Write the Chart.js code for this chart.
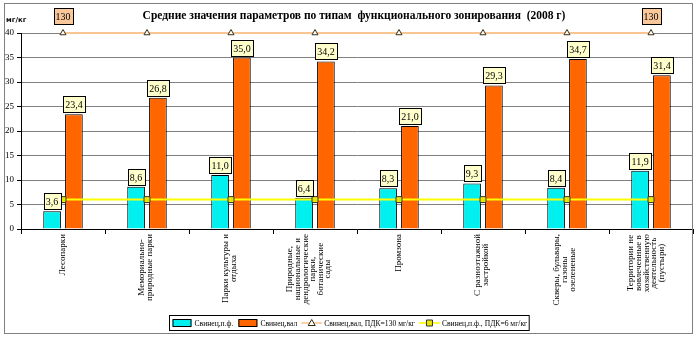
<!DOCTYPE html>
<html lang="ru">
<head>
<meta charset="UTF-8">
<title>Свинец по типам зонирования</title>
<script src="https://cdn.jsdelivr.net/npm/chart.js"></script>
<style>
    body { margin: 0; background: #fff; }
    #wrap { width: 699px; height: 340px; }
</style>
</head>
<body>
<div id="wrap"><canvas id="chart" width="699" height="340"></canvas></div>
<script>
// данные с диаграммы
const categories = [
    ['Лесопарки'],
    ['Мемориально-', 'природные парки'],
    ['Парки культуры и', 'отдыха'],
    ['Природные,', 'национальные и', 'дендрологические', 'парки,', 'ботанические', 'сады'],
    ['Промзона'],
    ['С разноэтажной', 'застройкой'],
    ['Скверы, бульвары,', 'газоны', 'озелененые'],
    ['Территории не', 'вовлеченные в', 'хозяйственную', 'деятельность', '(пустыри)']
];
const leadPF = [3.6, 8.6, 11.0, 6.4, 8.3, 9.3, 8.4, 11.9];
const leadVal = [23.4, 26.8, 35.0, 34.2, 21.0, 29.3, 34.7, 31.4];
const pdkVal = [130, 130, 130, 130, 130, 130, 130, 130];
const pdkPF = [6, 6, 6, 6, 6, 6, 6, 6];
const yMax = 40;
const yStep = 5;

const seriesNames = ['Свинец,п.ф.', 'Свинец,вал', 'Свинец,вал, ПДК=130 мг/кг', 'Свинец,п.ф., ПДК=6 мг/кг'];
const titleText = 'Средние значения параметров по типам  функционального зонирования  (2008 г)';
const unitText = 'мг/кг';

const SERIF = '"Liberation Serif", "Times New Roman", serif';
const fmt = v => v.toFixed(1).replace('.', ',');

function labelBox(ctx, text, cx, bottom, fill) {
    ctx.font = '10px ' + SERIF;
    const w = Math.ceil(ctx.measureText(text).width) + 4;
    const h = 16;
    const x = Math.round(cx - w / 2) + 0.5;
    const y = Math.round(bottom - h) + 0.5;
    ctx.fillStyle = fill;
    ctx.fillRect(x, y, w, h);
    ctx.strokeStyle = '#000';
    ctx.lineWidth = 1;
    ctx.strokeRect(x, y, w, h);
    ctx.fillStyle = '#000';
    ctx.textAlign = 'center';
    ctx.textBaseline = 'middle';
    ctx.fillText(text, cx, y + h / 2 + 1);
}

// подписи над столбцами и значения ПДК
const valueLabels = {
    id: 'valueLabels',
    afterDatasetsDraw(chart) {
        const ctx = chart.ctx;
        ctx.save();
        [0, 1].forEach(di => {
            const meta = chart.getDatasetMeta(di);
            meta.data.forEach((bar, i) => {
                labelBox(ctx, fmt(chart.data.datasets[di].data[i]), bar.x, bar.y - 2, '#FFFFCC');
            });
        });
        const m = chart.getDatasetMeta(2);
        const last = m.data.length - 1;
        [0, last].forEach(i => {
            labelBox(ctx, String(pdkVal[i]), m.data[i].x, m.data[i].y - 9, '#F9C79A');
        });
        ctx.restore();
    }
};

// подписи категорий, повернутые на 90°
const categoryLabels = {
    id: 'categoryLabels',
    afterDraw(chart) {
        const ctx = chart.ctx;
        const xs = chart.scales.x;
        const top = chart.chartArea.bottom + 5;
        const lh = 7.6;
        ctx.save();
        ctx.font = '9px ' + SERIF;
        ctx.fillStyle = '#000';
        categories.forEach((lines, i) => {
            const cx = xs.getPixelForValue(i) - (lines.length - 1) * 1.2;
            const widths = lines.map(l => ctx.measureText(l).width);
            const maxW = Math.max(...widths);
            const x0 = cx - (lines.length - 1) * lh / 2;
            lines.forEach((l, k) => {
                ctx.save();
                ctx.translate(x0 + k * lh, top + maxW / 2);
                ctx.rotate(-Math.PI / 2);
                ctx.textAlign = 'center';
                ctx.textBaseline = 'middle';
                ctx.fillText(l, 0, 0);
                ctx.restore();
            });
        });
        ctx.restore();
    }
};

// заголовок, единицы, легенда, рамка
const decorations = {
    id: 'decorations',
    afterDraw(chart) {
        const ctx = chart.ctx;
        ctx.save();
        ctx.fillStyle = '#000';
        ctx.font = 'bold 11.5px ' + SERIF;
        ctx.textAlign = 'center';
        ctx.textBaseline = 'middle';
        ctx.fillText(titleText, 354, 16);

        ctx.font = 'bold 7px "DejaVu Sans", sans-serif';
        ctx.textAlign = 'left';
        ctx.fillText(unitText, 6, 20);

        // легенда
        ctx.font = '7.6px ' + SERIF;
        const sym = 21, gap = 2, spacing = 4, pad = 2;
        const widths = seriesNames.map(n => sym + gap + ctx.measureText(n).width);
        const total = widths.reduce((a, b) => a + b, 0) + spacing * (widths.length - 1) + pad * 2;
        const lx = Math.round(349 - total / 2) + 0.5;
        const ly = 315.5, lhgt = 15;
        ctx.fillStyle = '#fff';
        ctx.fillRect(lx, ly, total, lhgt);
        ctx.strokeStyle = '#000';
        ctx.lineWidth = 1;
        ctx.strokeRect(lx, ly, total, lhgt);
        let x = lx + pad;
        const cy = ly + lhgt / 2;
        const ds = chart.data.datasets;
        seriesNames.forEach((n, i) => {
            if (i < 2) {
                ctx.fillStyle = ds[i].backgroundColor;
                ctx.fillRect(x + 1, cy - 3.5, sym - 2, 7);
                ctx.strokeStyle = '#000';
                ctx.strokeRect(x + 1.5, cy - 3.5, sym - 3, 7);
            } else {
                ctx.strokeStyle = ds[i].borderColor;
                ctx.lineWidth = 1.5;
                ctx.beginPath();
                ctx.moveTo(x, cy);
                ctx.lineTo(x + sym, cy);
                ctx.stroke();
                ctx.lineWidth = 1;
                ctx.fillStyle = ds[i].pointBackgroundColor;
                ctx.strokeStyle = ds[i].pointBorderColor;
                ctx.beginPath();
                if (ds[i].pointStyle === 'rect') {
                    const s = 3;
                    ctx.rect(x + sym / 2 - s, cy - s, s * 2, s * 2);
                } else {
                    ctx.moveTo(x + sym / 2, cy - 3.5);
                    ctx.lineTo(x + sym / 2 + 3.5, cy + 2.5);
                    ctx.lineTo(x + sym / 2 - 3.5, cy + 2.5);
                    ctx.closePath();
                }
                ctx.fill();
                ctx.stroke();
            }
            ctx.fillStyle = '#000';
            ctx.textAlign = 'left';
            ctx.textBaseline = 'middle';
            ctx.fillText(n, x + sym + gap, cy + 0.5);
            x += widths[i] + spacing;
        });

        // рамка диаграммы
        ctx.strokeStyle = '#808080';
        ctx.lineWidth = 1;
        ctx.strokeRect(4.5, 3.5, 688, 330);
        ctx.restore();
    }
};

new Chart(document.getElementById('chart'), {
    type: 'bar',
    data: {
        labels: categories,
        datasets: [
            {
                label: seriesNames[0],
                data: leadPF,
                backgroundColor: '#00F0F0',
                borderColor: '#000',
                borderWidth: 1,
                categoryPercentage: 0.52,
                barPercentage: 0.81,
                order: 2
            },
            {
                label: seriesNames[1],
                data: leadVal,
                backgroundColor: '#FF6600',
                borderColor: '#000',
                borderWidth: 1,
                categoryPercentage: 0.52,
                barPercentage: 0.81,
                order: 2
            },
            {
                type: 'line',
                label: seriesNames[2],
                data: pdkVal,
                yAxisID: 'y2',
                borderColor: '#F8C590',
                borderWidth: 2,
                pointStyle: 'triangle',
                pointRadius: 3.5,
                pointBackgroundColor: '#fff',
                pointBorderColor: '#3a2a10',
                pointBorderWidth: 1,
                clip: 4,
                order: 1
            },
            {
                type: 'line',
                label: seriesNames[3],
                data: pdkPF,
                borderColor: '#FFFF00',
                borderWidth: 2,
                pointStyle: 'rect',
                pointRadius: 4.2,
                pointBackgroundColor: '#E8E800',
                pointBorderColor: '#333',
                pointBorderWidth: 1,
                order: 1
            }
        ]
    },
    options: {
        responsive: false,
        animation: false,
        layout: { padding: { top: 33, right: 6, left: 0, bottom: 0 } },
        plugins: {
            legend: { display: false },
            tooltip: { enabled: false }
        },
        scales: {
            x: {
                grid: { offset: true, drawOnChartArea: false, tickLength: 5, color: '#000' },
                border: { color: '#000' },
                ticks: { display: false },
                afterFit: s => { s.height = 111; }
            },
            y: {
                min: 0,
                max: yMax,
                ticks: {
                    stepSize: yStep,
                    color: '#000',
                    padding: 3,
                    font: { family: SERIF, size: 9 }
                },
                grid: { color: '#808080', tickLength: 4, tickColor: '#000' },
                border: { color: '#000' },
                afterFit: s => { s.width = 21; }
            },
            y2: { display: false, min: 0, max: 130 }
        }
    },
    plugins: [valueLabels, categoryLabels, decorations]
});
</script>
</body>
</html>
